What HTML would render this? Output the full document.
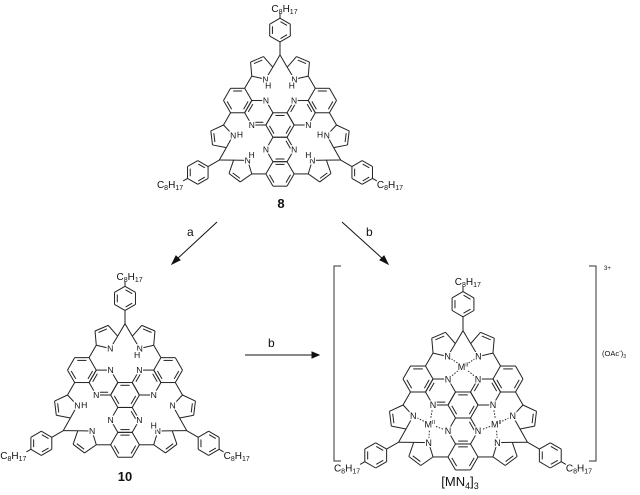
<!DOCTYPE html>
<html><head><meta charset="utf-8">
<style>
html,body{margin:0;padding:0;background:#fff}
svg{display:block}
text{font-family:"Liberation Sans",Arial,sans-serif;fill:#111}
</style></head>
<body>
<svg id="s" width="640" height="495" viewBox="0 0 640 495" xmlns="http://www.w3.org/2000/svg">
<g id="L" stroke="#222" stroke-width="1" fill="none"></g>
<g id="T"></g>
<g stroke="#111" stroke-width="1" fill="#111">
<line x1="217" y1="222" x2="176" y2="260"/><polygon points="172,264 176,256 180,260" />
<line x1="342" y1="222" x2="384" y2="260"/><polygon points="388,264 380,260 384,256" />
<line x1="245" y1="355" x2="314" y2="355"/><polygon points="319,355 312,352 312,358"/>
</g>
<text x="187" y="236" font-size="12">a</text>
<text x="366" y="236" font-size="12">b</text>
<text x="268" y="347" font-size="12">b</text>
<text x="281" y="208" font-size="13" font-weight="bold" text-anchor="middle">8</text>
<text x="125" y="481" font-size="13" font-weight="bold" text-anchor="middle">10</text>
<text x="460" y="486" font-size="13" text-anchor="middle">[MN<tspan font-size="9" dy="3">4</tspan><tspan dy="-3">]</tspan><tspan font-size="9" dy="3">3</tspan></text>
<g stroke="#333" stroke-width="1" fill="none">
<polyline points="341,266 334,266 334,461 341,461"/>
<polyline points="589,266 596,266 596,461 589,461"/>
</g>
<text x="604" y="270" font-size="6">3+</text>
<text x="602" y="356" font-size="7.5">(OAc<tspan font-size="5" dy="-3">-</tspan><tspan dy="3">)</tspan><tspan font-size="5" dy="2">3</tspan></text>
</svg>
<script>
var L=document.getElementById('L'),T=document.getElementById('T');
var NS='http://www.w3.org/2000/svg';
function ln(a,b,dash){var e=document.createElementNS(NS,'line');e.setAttribute('x1',a[0].toFixed(2));e.setAttribute('y1',a[1].toFixed(2));e.setAttribute('x2',b[0].toFixed(2));e.setAttribute('y2',b[1].toFixed(2));if(dash)e.setAttribute('stroke-dasharray','1.5,1.5');L.appendChild(e);}
function tx(p,str,fs,anchor){var e=document.createElementNS(NS,'text');e.setAttribute('x',p[0].toFixed(2));e.setAttribute('y',(p[1]+fs*0.36).toFixed(2));e.setAttribute('font-size',fs);e.setAttribute('text-anchor',anchor||'middle');e.textContent=str;T.appendChild(e);return e;}
function bg(p,w,h){var e=document.createElementNS(NS,'rect');e.setAttribute('x',p[0]-w/2);e.setAttribute('y',p[1]-h/2);e.setAttribute('width',w);e.setAttribute('height',h);e.setAttribute('fill','#fff');T.appendChild(e);}
function c8(p,anchor,fs){var e=document.createElementNS(NS,'text');e.setAttribute('x',p[0].toFixed(2));e.setAttribute('y',(p[1]+3.5).toFixed(2));e.setAttribute('font-size',fs);e.setAttribute('text-anchor',anchor);
e.innerHTML='C<tspan font-size="'+(fs*0.7)+'" dy="2">8</tspan><tspan dy="-2">H</tspan><tspan font-size="'+(fs*0.7)+'" dy="2">17</tspan>';T.appendChild(e);}
function rot(p,f){var c=Math.cos(f),s=Math.sin(f);return [p[0]*c-p[1]*s,p[0]*s+p[1]*c];}
function hexv(cx,cy,r,a0){var v=[];for(var k=0;k<6;k++){var a=a0+k*Math.PI/3;v.push([cx+r*Math.cos(a),cy+r*Math.sin(a)]);}return v;}
function inner(a,b,c){
 var m=[(a[0]+b[0])/2,(a[1]+b[1])/2];var dx=c[0]-m[0],dy=c[1]-m[1];var d=Math.hypot(dx,dy);var o=2.4/d;
 return [[a[0]+(b[0]-a[0])*0.18+dx*o,a[1]+(b[1]-a[1])*0.18+dy*o],[b[0]+(a[0]-b[0])*0.18+dx*o,b[1]+(a[1]-b[1])*0.18+dy*o]];}
function mol(CX,CY,S,type){
 function P(p){return [CX+p[0]*S,CY+p[1]*S];}
 function ring(v,dbl,cen){for(var k=0;k<v.length;k++){ln(P(v[k]),P(v[(k+1)%v.length]));}
  if(dbl)for(var k=0;k<dbl.length;k++){var i=dbl[k];var q=inner(v[i],v[(i+1)%v.length],cen);ln(P(q[0]),P(q[1]));}}
 var D2R=Math.PI/180, FS=7.5*S;
 var ch=hexv(0,0,12.5,0);ring(ch,[0,2,4],[0,0]);
 var Ns=[],pN=[];
 for(var ai=0;ai<3;ai++){var f=ai*120*D2R;
  function R(p){return rot(p,f);}
  var pz=hexv(0,21.65,12.5,0).map(R);ring(pz,[5,1],R([0,21.65]));
  Ns.push(R([12.5,21.65]));Ns.push(R([-12.5,21.65]));
  var bz=hexv(0,43.3,12.5,0).map(R);ring(bz,[0,2,4],R([0,43.3]));
  for(var sd=-1;sd<=1;sd+=2){
   ln(P(R([sd*12.5,43.3])),P(R([sd*25,43.3])));
   var cen=[sd*-35,39.8];var angs=[19,-53,-125,163,91];var pv=[];
   for(var k=0;k<5;k++){var a=angs[k]*D2R;pv.push([cen[0]+sd*10.6*Math.cos(a),cen[1]+10.6*Math.sin(a)]);}
   pv=pv.map(R);var cr=R(cen);
   ring(pv,[3],cr);
   var meso=R([sd*-53.7,31]);ln(P(pv[2]),P(meso));
   var nPos=pv[1];
   var hasH = type==8 || (type==10 && sd==-1);
   pN.push(nPos);
   bg(P(nPos),FS*0.85,FS);tx(P(nPos),'N',FS);
   if(hasH){var dx=nPos[0]-cr[0],dy=nPos[1]-cr[1],d=Math.hypot(dx,dy);var hp=[nPos[0]+dx/d*6,nPos[1]+dy/d*6];bg(P(hp),FS*0.8,FS);tx(P(hp),'H',FS);}
  }
 }
 Ns.forEach(function(n){bg(P(n),FS*0.85,FS);tx(P(n),'N',FS);});
 [270,150,30].forEach(function(ad){var a=ad*D2R,u=[Math.cos(a),Math.sin(a)];
  var m=[u[0]*62,u[1]*62],pc=[u[0]*84,u[1]*84];
  var v=hexv(pc[0],pc[1],10.5,a+Math.PI);
  ln(P(m),P(v[0]));ring(v,[1,3,5],pc);
  var far=v[3];var e=[far[0]+u[0]*4.5,far[1]+u[1]*4.5];ln(P(far),P(e));
  if(ad==270)c8(P([far[0]+4,far[1]-8.5]),'middle',10);
  else if(ad==150)c8(P([e[0],e[1]+3]),'end',10);
  else c8(P([e[0],e[1]+3]),'start',10);
 });
 if(type=='M'){
  [270,150,30].forEach(function(ad){var a=ad*D2R;var mp=[Math.cos(a)*32,Math.sin(a)*32];
   var all=Ns.concat(pN);
   all.forEach(function(n){var d=Math.hypot(n[0]-mp[0],n[1]-mp[1]);if(d<28){var t1=5.5/d,t2=4/d;ln(P([mp[0]+(n[0]-mp[0])*t1,mp[1]+(n[1]-mp[1])*t1]),P([n[0]-(n[0]-mp[0])*t2,n[1]-(n[1]-mp[1])*t2]),true);}});
   var q=P(mp);bg(q,11,9);var e=tx(q,'M',9);e.innerHTML='M<tspan font-size="5.5" dy="-3.5">II</tspan>';
  });
 }
}
mol(280,125,1.13,8);
mol(125,395,1.15,10);
mol(463,405,1.2,'M');
</script>
</body></html>
